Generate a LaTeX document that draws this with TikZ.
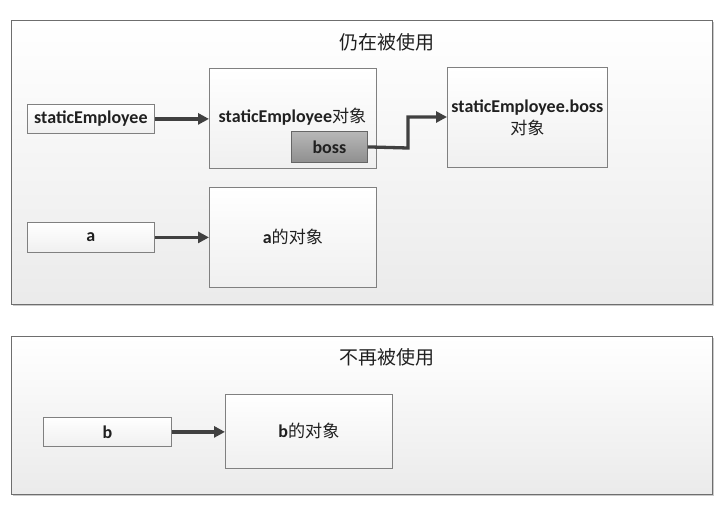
\documentclass[tikz,border=0pt]{standalone}
\usepackage{fontspec}
\setmainfont{Carlito}
\newfontfamily\cjk{Noto Sans CJK SC}[Scale=0.95]
\usetikzlibrary{arrows.meta,shadows,positioning}
\definecolor{frame}{HTML}{6E6E6E}
\definecolor{arrowc}{HTML}{404040}
\definecolor{txt}{HTML}{202020}
\begin{document}
\begin{tikzpicture}[x=1pt,y=-1pt,
  panel/.style={draw=frame,line width=1pt,top color=white,bottom color=black!8,
    drop shadow={shadow xshift=1.2pt,shadow yshift=-1.2pt,fill=black!35,opacity=0.6},
    minimum width=#1,inner sep=0pt},
  box/.style={draw=black!50,line width=0.8pt,top color=white,bottom color=black!6,
    drop shadow={shadow xshift=1pt,shadow yshift=-1pt,fill=black!30,opacity=0.6},
    inner sep=0pt,text=txt,font=\bfseries\fontsize{18}{21}\selectfont,align=center},
  bossbox/.style={draw=black!60,line width=0.8pt,top color=black!28,bottom color=black!44,
    drop shadow={shadow xshift=1pt,shadow yshift=-1pt,fill=black!30,opacity=0.6},
    inner sep=0pt,text=txt,font=\bfseries\fontsize{18}{21}\selectfont},
  title/.style={font=\cjk\fontsize{20}{22}\selectfont,inner sep=0pt,text=txt},
  arr/.style={draw=arrowc,line width=3.3pt,-{Triangle[length=11pt,width=11pt]}}]
\useasboundingbox (0,0) rectangle (723,504);
% panels
\node[panel, minimum width=701pt, minimum height=284pt, anchor=north west] (p1) at (11,20) {};
\node[panel, minimum width=701pt, minimum height=158pt, anchor=north west] (p2) at (11,336) {};
\node[title] (t1) at (387,42) {仍在被使用};
\node[title] (t2) at (387,357) {不再被使用};
% top group
\node[box, minimum width=127pt, minimum height=29pt, anchor=north west] (se) at (27,104) {staticEmployee};
\node[box, minimum width=167pt, minimum height=100pt, anchor=north west] (seo) at (209,68) {};
\node[font=\bfseries\fontsize{18}{21}\selectfont,text=txt,inner sep=0pt] (seot) at (292.5,117) {staticEmployee{\cjk\mdseries 对象}};
\node[bossbox, minimum width=76pt, minimum height=31pt, anchor=north west] (boss) at (291,131) {boss};
\node[box, minimum width=160pt, minimum height=100pt, anchor=north west] (sbo) at (447,67) {staticEmployee.boss\\[1pt]{\cjk\mdseries 对象}};
\node[box, minimum width=127pt, minimum height=30pt, anchor=north west] (a) at (27,222) {a};
\node[box, minimum width=167pt, minimum height=100pt, anchor=north west] (ao) at (209,187) {a{\cjk\mdseries 的对象}};
% bottom group
\node[box, minimum width=128pt, minimum height=29pt, anchor=north west] (b) at (43,417) {b};
\node[box, minimum width=167pt, minimum height=74pt, anchor=north west] (bo) at (225,394) {b{\cjk\mdseries 的对象}};
% arrows
\coordinate (k1) at (408,148);
\coordinate (k2) at (408,117);
\draw[arr] (se.east) -- (se.east -| seo.west);
\draw[arr] (boss.east) -- (k1) -- (k2) -- (k2 -| sbo.west);
\draw[arr] (a.east) -- (a.east -| ao.west);
\draw[arr] (b.east) -- (b.east -| bo.west);
\end{tikzpicture}
\end{document}
